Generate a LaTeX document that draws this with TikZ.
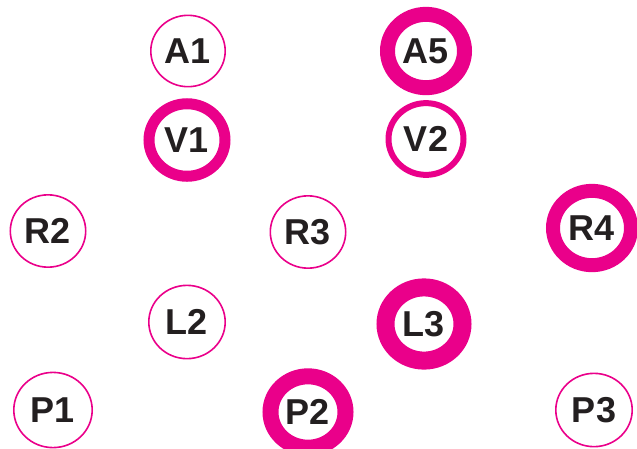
\documentclass[tikz,border=0pt]{standalone}
\usepackage{fontspec}
\setmainfont{Liberation Sans}
\usetikzlibrary{shapes.geometric}
\definecolor{ringpink}{RGB}{234,0,138}
\definecolor{labelgray}{RGB}{35,31,32}
\tikzstyle{stop}=[draw=ringpink, ellipse, inner sep=0pt, text=labelgray,
  font=\fontsize{36}{40}\selectfont\bfseries]

\begin{document}
\begin{tikzpicture}[x=1pt,y=1pt]
\useasboundingbox (0,0) rectangle (637,-448);
% name / x / y / outer width / ring width
\foreach \n/\x/\y/\ow/\lw in {A1/188/51/76/1.6, A5/426/51/92/15,
  V1/187/140/87/11, V2/426/139/81/6,
  R2/48/231/77/1.6, R3/308/232/77/1.6, R4/592/228/92/14,
  L2/187/322/78/1.6, L3/424/324/95/18,
  P1/53/410/80/1.6, P2/308/412/91/16, P3/594/410/78/1.6}
{
\pgfmathsetmacro{\mw}{\ow-\lw}
\pgfmathsetmacro{\mh}{0.96*\ow-\lw}
\node[stop, line width=\lw pt, minimum width=\mw pt, minimum height=\mh pt]
  (\n) at (\x,-\y) {\n};
}
\end{tikzpicture}
\end{document}
